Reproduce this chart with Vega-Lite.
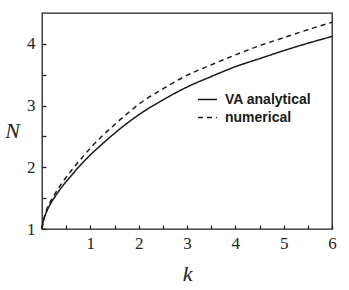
{
  "$schema": "https://vega.github.io/schema/vega-lite/v6.json",
  "width": 290,
  "height": 216,
  "autosize": {"type": "none"},
  "padding": {"left": 42, "top": 13, "right": 17, "bottom": 61},
  "background": "white",
  "config": {
    "view": {"stroke": "#222", "strokeWidth": 1.3}
  },
  "data": {
    "values": [
      {"k": 0.0, "N": 1.0, "series": "VA analytical"},
      {"k": 0.02, "N": 1.1, "series": "VA analytical"},
      {"k": 0.05, "N": 1.19, "series": "VA analytical"},
      {"k": 0.1, "N": 1.29, "series": "VA analytical"},
      {"k": 0.2, "N": 1.44, "series": "VA analytical"},
      {"k": 0.3, "N": 1.56, "series": "VA analytical"},
      {"k": 0.4, "N": 1.67, "series": "VA analytical"},
      {"k": 0.6, "N": 1.86, "series": "VA analytical"},
      {"k": 0.8, "N": 2.04, "series": "VA analytical"},
      {"k": 1.0, "N": 2.2, "series": "VA analytical"},
      {"k": 1.25, "N": 2.38, "series": "VA analytical"},
      {"k": 1.5, "N": 2.55, "series": "VA analytical"},
      {"k": 1.84, "N": 2.76, "series": "VA analytical"},
      {"k": 2.0, "N": 2.85, "series": "VA analytical"},
      {"k": 2.5, "N": 3.09, "series": "VA analytical"},
      {"k": 3.0, "N": 3.3, "series": "VA analytical"},
      {"k": 3.5, "N": 3.47, "series": "VA analytical"},
      {"k": 4.0, "N": 3.63, "series": "VA analytical"},
      {"k": 4.5, "N": 3.76, "series": "VA analytical"},
      {"k": 5.0, "N": 3.89, "series": "VA analytical"},
      {"k": 5.5, "N": 4.01, "series": "VA analytical"},
      {"k": 6.0, "N": 4.12, "series": "VA analytical"},
      {"k": 0.0, "N": 1.0, "series": "numerical"},
      {"k": 0.02, "N": 1.11, "series": "numerical"},
      {"k": 0.05, "N": 1.2, "series": "numerical"},
      {"k": 0.1, "N": 1.32, "series": "numerical"},
      {"k": 0.2, "N": 1.48, "series": "numerical"},
      {"k": 0.3, "N": 1.61, "series": "numerical"},
      {"k": 0.4, "N": 1.73, "series": "numerical"},
      {"k": 0.6, "N": 1.94, "series": "numerical"},
      {"k": 0.8, "N": 2.13, "series": "numerical"},
      {"k": 1.0, "N": 2.31, "series": "numerical"},
      {"k": 1.25, "N": 2.51, "series": "numerical"},
      {"k": 1.5, "N": 2.69, "series": "numerical"},
      {"k": 1.84, "N": 2.92, "series": "numerical"},
      {"k": 2.0, "N": 3.02, "series": "numerical"},
      {"k": 2.5, "N": 3.27, "series": "numerical"},
      {"k": 3.0, "N": 3.49, "series": "numerical"},
      {"k": 3.5, "N": 3.66, "series": "numerical"},
      {"k": 4.0, "N": 3.82, "series": "numerical"},
      {"k": 4.5, "N": 3.97, "series": "numerical"},
      {"k": 5.0, "N": 4.1, "series": "numerical"},
      {"k": 5.5, "N": 4.23, "series": "numerical"},
      {"k": 6.0, "N": 4.35, "series": "numerical"}
    ]
  },
  "mark": {"type": "line", "color": "#1a1a1a", "strokeWidth": 1.5, "interpolate": "monotone"},
  "encoding": {
    "x": {
      "field": "k", "type": "quantitative",
      "scale": {"domain": [0, 6], "nice": false, "zero": false},
      "axis": {
        "orient": "bottom",
        "title": "k",
        "values": [0.5, 1, 1.5, 2, 2.5, 3, 3.5, 4, 4.5, 5, 5.5, 6],
        "labelExpr": "datum.value % 1 === 0 ? format(datum.value, 'd') : ''",
        "domain": false,
        "grid": false,
        "ticks": true,
        "tickColor": "#222",
        "tickWidth": 1.3,
        "tickSize": 4,
        "offset": -4,
        "labelFont": "Liberation Serif",
        "labelFontSize": 17,
        "labelColor": "#222",
        "labelPadding": 6,
        "labelFlush": false,
        "labelOverlap": false,
        "titleFont": "Liberation Serif",
        "titleFontStyle": "italic",
        "titleFontWeight": "normal",
        "titleFontSize": 22,
        "titleColor": "#222",
        "titleY": 55,
        "titleBaseline": "alphabetic"
      }
    },
    "y": {
      "field": "N", "type": "quantitative",
      "scale": {"domain": [1, 4.5], "nice": false, "zero": false},
      "axis": {
        "orient": "left",
        "title": "N",
        "values": [1, 1.5, 2, 2.5, 3, 3.5, 4],
        "labelExpr": "datum.value % 1 === 0 ? format(datum.value, 'd') : ''",
        "domain": false,
        "grid": false,
        "ticks": true,
        "tickColor": "#222",
        "tickWidth": 1.3,
        "tickSize": 4,
        "offset": -4,
        "labelFont": "Liberation Serif",
        "labelFontSize": 17,
        "labelColor": "#222",
        "labelPadding": 7,
        "labelFlush": false,
        "labelOverlap": false,
        "titleFont": "Liberation Serif",
        "titleFontStyle": "italic",
        "titleFontWeight": "normal",
        "titleFontSize": 22,
        "titleColor": "#222",
        "titleAngle": 0,
        "titleX": -34,
        "titleY": 117,
        "titleAlign": "center",
        "titleBaseline": "middle"
      }
    },
    "detail": {"field": "series"},
    "strokeDash": {
      "field": "series", "type": "nominal",
      "scale": {"domain": ["VA analytical", "numerical"], "range": [[1, 0], [5, 4]]},
      "legend": {
        "title": null,
        "orient": "none",
        "legendX": 155,
        "legendY": 76,
        "symbolType": "stroke",
        "symbolSize": 361,
        "symbolStrokeWidth": 1.5,
        "symbolStrokeColor": "#1a1a1a",
        "labelFont": "Liberation Sans",
        "labelFontSize": 14,
        "labelFontWeight": "bold",
        "labelColor": "#1a1a1a",
        "labelOffset": 7,
        "rowPadding": 0,
        "padding": 0
      }
    }
  }
}
